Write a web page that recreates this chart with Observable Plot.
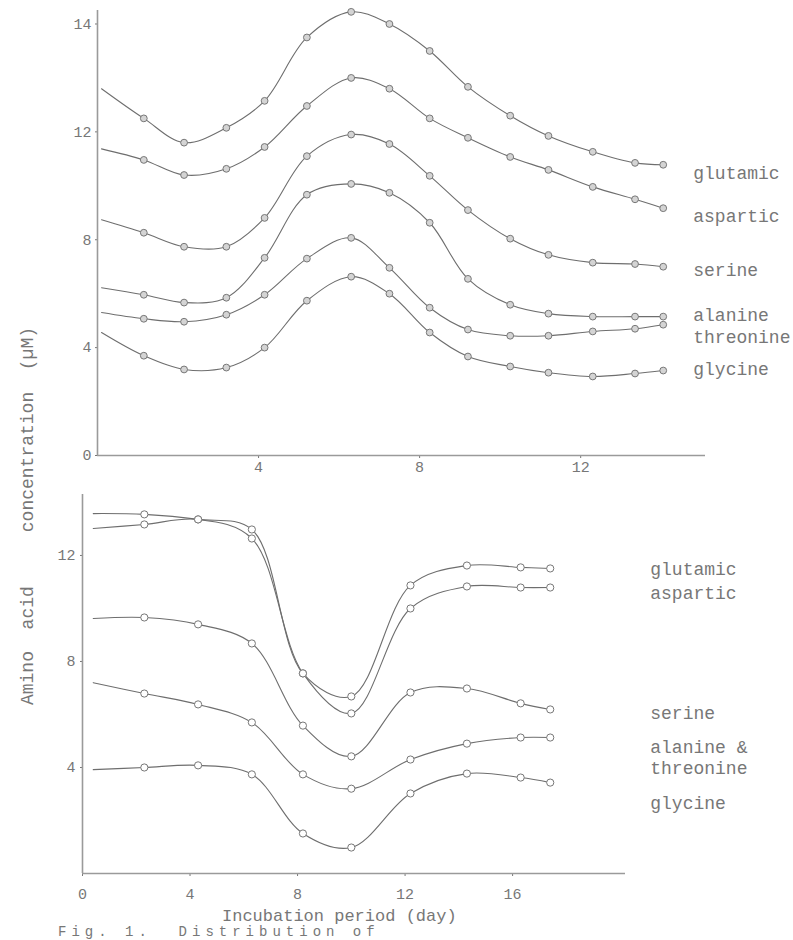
<!DOCTYPE html>
<html>
<head>
<meta charset="utf-8">
<script src="https://cdn.jsdelivr.net/npm/d3@7"></script>
<script src="https://cdn.jsdelivr.net/npm/@observablehq/plot@0.6"></script>
<style>
  html, body { margin: 0; padding: 0; background: #fff; }
  #wrap { position: relative; width: 793px; height: 940px; overflow: hidden; background: #fff;
          font-family: "Liberation Mono", "DejaVu Sans Mono", monospace; color: #777; }
  #top, #bottom { position: absolute; left: 0; }
  #top { top: 0; }
  #bottom { top: 480px; }
  .lbl { position: absolute; font-size: 18px; line-height: 20px; white-space: pre; color: #777; }
</style>
</head>
<body>
<div id="wrap">
  <div id="top"></div>
  <div id="bottom"></div>
  <div class="lbl" id="ytitle" style="left:28px; top:516px; transform: translate(-50%,-50%) rotate(-90deg);">Amino  acid     concentration  (µM)</div>
  <div class="lbl" id="xtitle" style="left:222px; top:908px; font-size:17px; line-height:18px;">Incubation period (day)</div>
  <div class="lbl" id="caption" style="left:58px; top:924px; font-size:14px; line-height:16px; letter-spacing:5px;">Fig. 1.  Distribution of</div>
</div>
<script>
// ---------- Upper panel data ----------
const topDays = [0.1, 1.15, 2.15, 3.2, 4.15, 5.2, 6.3, 7.25, 8.25, 9.2, 10.25, 11.2, 12.3, 13.35, 14.05];
const topGlutamic  = [13.6, 12.5, 11.6, 12.15, 13.15, 15.5, 16.45, 16.0, 15.0, 13.67, 12.6, 11.85, 11.26, 10.85, 10.78];
const topAspartic  = [11.37, 10.96, 10.4, 10.63, 11.44, 12.96, 14.0, 13.6, 12.5, 11.78, 11.07, 10.59, 9.96, 9.5, 9.17];
const topSerine    = [8.74, 8.26, 7.74, 7.74, 8.81, 11.1, 11.9, 11.55, 10.37, 9.1, 8.04, 7.44, 7.15, 7.1, 7.0];
const topAlanine   = [6.22, 5.96, 5.67, 5.85, 7.33, 9.67, 10.07, 9.74, 8.63, 6.55, 5.59, 5.26, 5.15, 5.15, 5.15];
const topThreonine = [5.3, 5.07, 4.96, 5.22, 5.96, 7.3, 8.07, 6.96, 5.48, 4.67, 4.44, 4.44, 4.6, 4.7, 4.85];
const topGlycine   = [4.56, 3.7, 3.19, 3.26, 4.0, 5.74, 6.63, 6.0, 4.56, 3.67, 3.3, 3.07, 2.93, 3.04, 3.15];
const topNames = ["glutamic", "aspartic", "serine", "alanine", "threonine", "glycine"];
const topXTicks = [4, 8, 12];
const topYTicks = [0, 4, 8, 12, 16];
const topYTickLabels = ["0", "4", "8", "12", "14"];

// ---------- Lower panel data ----------
const botDays = [0.4, 2.3, 4.3, 6.3, 8.2, 10.0, 12.2, 14.3, 16.3, 17.4];
const botGlutamic = [13.58, 13.55, 13.36, 12.98, 7.55, 6.68, 10.87, 11.62, 11.55, 11.51];
const botAspartic = [13.02, 13.17, 13.36, 12.64, 7.55, 6.04, 10.0, 10.83, 10.79, 10.79];
const botSerine   = [9.62, 9.66, 9.4, 8.68, 5.58, 4.42, 6.83, 6.98, 6.42, 6.19];
const botAlaThr   = [7.2, 6.79, 6.38, 5.7, 3.74, 3.2, 4.3, 4.9, 5.13, 5.13];
const botGlycine  = [3.92, 4.0, 4.08, 3.74, 1.51, 0.98, 3.02, 3.77, 3.62, 3.43];
const botNames = ["glutamic", "aspartic", "serine", "alanine &\nthreonine", "glycine"];
const botXTicks = [0, 4, 8, 12, 16];
const botYTicks = [4, 8, 12];

// ---------- build tidy tables ----------
function tidy(days, seriesList, names) {
  const rows = [];
  seriesList.forEach((vals, i) => vals.forEach((v, j) => rows.push({series: names[i], day: days[j], value: v, idx: j})));
  return rows;
}
const topSeries = [topGlutamic, topAspartic, topSerine, topAlanine, topThreonine, topGlycine];
const botSeries = [botGlutamic, botAspartic, botSerine, botAlaThr, botGlycine];
const topData = tidy(topDays, topSeries, topNames);
const botData = tidy(botDays, botSeries, botNames);
const lastOf = (data, name) => data.filter(d => d.series === name).slice(-1);

const ink = "#6e6e6e";
const axisInk = "#9a9a9a";
const font = "Liberation Mono, DejaVu Sans Mono, monospace";

// label vertical nudges (px) relative to each series' last point
const topLabelDy = [8, 8, 4, -1, 13, -1];
const botLabelDy = [0, 5, 3, 19, 20];

const topPlot = Plot.plot({
  width: 793, height: 480,
  marginLeft: 97, marginRight: 88, marginTop: 10, marginBottom: 25,
  style: {fontFamily: font, fontSize: "15px", color: "#777", background: "transparent"},
  x: {domain: [0, 15.1], ticks: topXTicks, tickSize: 3, tickPadding: 3, label: null},
  y: {domain: [0, 16.5], ticks: topYTicks, tickSize: 2, tickPadding: 4, label: null,
      tickFormat: d => topYTickLabels[topYTicks.indexOf(d)]},
  marks: [
    Plot.ruleX([0], {stroke: axisInk, strokeWidth: 1.6}),
    Plot.ruleY([0], {stroke: axisInk, strokeWidth: 1.6}),
    Plot.line(topData, {x: "day", y: "value", z: "series", curve: "catmull-rom", stroke: ink, strokeWidth: 1.1}),
    Plot.dot(topData.filter(d => d.idx > 0), {x: "day", y: "value", r: 3.4, stroke: "#777", fill: "#d4d4d4", strokeWidth: 1}),
    ...topNames.map((n, i) => Plot.text(lastOf(topData, n), {
      x: "day", y: "value", text: "series", dx: 30, dy: topLabelDy[i],
      textAnchor: "start", fontSize: 18, fill: "#777", fontFamily: font}))
  ]
});
document.getElementById("top").appendChild(topPlot);

const botPlot = Plot.plot({
  width: 793, height: 460,
  marginLeft: 82, marginRight: 168, marginTop: 14, marginBottom: 67,
  style: {fontFamily: font, fontSize: "15px", color: "#777", background: "transparent"},
  x: {domain: [0, 20.2], ticks: botXTicks, tickSize: 3, tickPadding: 12, label: null},
  y: {domain: [0, 14.3], ticks: botYTicks, tickSize: 2, tickPadding: 5, label: null},
  marks: [
    Plot.ruleX([0], {stroke: axisInk, strokeWidth: 1.6}),
    Plot.ruleY([0], {stroke: axisInk, strokeWidth: 1.6}),
    Plot.line(botData, {x: "day", y: "value", z: "series", curve: "catmull-rom", stroke: ink, strokeWidth: 1.1}),
    Plot.dot(botData.filter(d => d.idx > 0), {x: "day", y: "value", r: 3.6, stroke: "#777", fill: "white", strokeWidth: 1}),
    ...botNames.map((n, i) => Plot.text(lastOf(botData, n), {
      x: "day", y: "value", text: "series", dx: 100, dy: botLabelDy[i], lineHeight: 1.17,
      textAnchor: "start", fontSize: 18, fill: "#777", fontFamily: font}))
  ]
});
document.getElementById("bottom").appendChild(botPlot);
</script>
</body>
</html>
